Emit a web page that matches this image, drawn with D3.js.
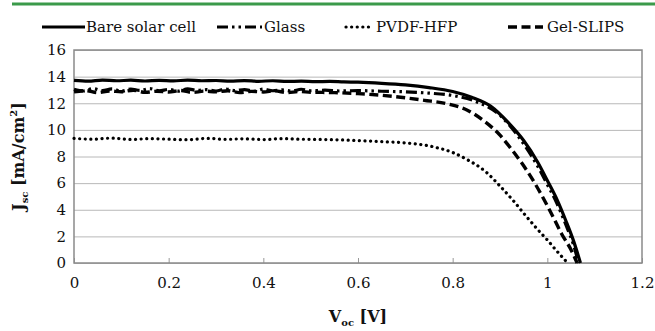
<!DOCTYPE html>
<html>
<head>
<meta charset="utf-8">
<script src="https://cdn.jsdelivr.net/npm/d3@7"></script>
<style>
  body { margin: 0; background: #fff; }
  svg { display: block; }
  svg text { font-family: "DejaVu Serif", "Liberation Serif", serif; }
  .tick text { font-size: 15px; fill: #111; }
</style>
</head>
<body>
<div id="chart"></div>
<script>
// J-V curves
const bareV = [0, 0.03, 0.06, 0.09, 0.12, 0.15, 0.18, 0.21, 0.24, 0.27, 0.3, 0.33, 0.36, 0.39, 0.42, 0.45, 0.48, 0.51, 0.54, 0.57, 0.6, 0.65, 0.7, 0.75, 0.8, 0.84, 0.88, 0.92, 0.95, 0.98, 1.0, 1.02, 1.04, 1.055, 1.07];
const bareJ = [13.72, 13.66, 13.74, 13.69, 13.73, 13.67, 13.72, 13.68, 13.74, 13.69, 13.71, 13.66, 13.70, 13.65, 13.69, 13.64, 13.66, 13.62, 13.64, 13.60, 13.58, 13.50, 13.38, 13.18, 12.88, 12.45, 11.78, 10.45, 9.20, 7.55, 6.20, 4.80, 3.10, 1.70, 0];

const glassV = [0, 0.02, 0.04, 0.06, 0.08, 0.1, 0.12, 0.14, 0.16, 0.18, 0.2, 0.22, 0.24, 0.26, 0.28, 0.3, 0.32, 0.34, 0.36, 0.38, 0.4, 0.42, 0.44, 0.46, 0.48, 0.5, 0.53, 0.56, 0.6, 0.65, 0.7, 0.75, 0.8, 0.85, 0.9, 0.92, 0.95, 0.98, 1.0, 1.02, 1.04, 1.055, 1.066];
const glassJ = [13.05, 12.92, 13.10, 12.95, 13.08, 12.90, 13.06, 12.97, 13.10, 12.93, 13.04, 12.91, 13.08, 12.96, 13.02, 12.92, 13.07, 12.95, 13.03, 12.90, 13.06, 12.94, 13.00, 12.91, 13.05, 12.94, 12.98, 12.92, 12.95, 12.90, 12.86, 12.76, 12.58, 12.12, 11.10, 10.35, 8.95, 7.25, 5.90, 4.50, 2.80, 1.40, 0];

const gelV = [0, 0.025, 0.05, 0.075, 0.1, 0.125, 0.15, 0.175, 0.2, 0.225, 0.25, 0.275, 0.3, 0.325, 0.35, 0.375, 0.4, 0.425, 0.45, 0.475, 0.5, 0.55, 0.6, 0.65, 0.69, 0.74, 0.79, 0.83, 0.865, 0.9, 0.92, 0.95, 0.97, 1.0, 1.012, 1.03, 1.05, 1.063];
const gelJ = [12.85, 12.95, 12.80, 12.92, 12.86, 12.98, 12.82, 12.90, 12.84, 12.96, 12.81, 12.91, 12.86, 12.94, 12.80, 12.89, 12.85, 12.93, 12.80, 12.88, 12.83, 12.80, 12.72, 12.60, 12.45, 12.22, 11.95, 11.50, 10.70, 9.60, 8.74, 7.30, 6.20, 4.30, 3.48, 2.20, 1.00, 0];

const pvdfV = [0, 0.04, 0.08, 0.12, 0.16, 0.2, 0.24, 0.28, 0.32, 0.36, 0.4, 0.44, 0.48, 0.52, 0.56, 0.6, 0.65, 0.69, 0.76, 0.8, 0.83, 0.87, 0.9, 0.93, 0.956, 0.98, 1.0, 1.02, 1.043];
const pvdfJ = [9.36, 9.30, 9.38, 9.28, 9.34, 9.30, 9.26, 9.36, 9.29, 9.33, 9.27, 9.34, 9.30, 9.28, 9.25, 9.20, 9.12, 9.05, 8.72, 8.30, 7.78, 6.85, 5.78, 4.60, 3.48, 2.50, 1.73, 0.90, 0];

const xTicks = [0, 0.2, 0.4, 0.6, 0.8, 1, 1.2];
const yTicks = [0, 2, 4, 6, 8, 10, 12, 14, 16];

const series = [
  { name: "Bare solar cell", v: bareV, j: bareJ, dash: null, w: 3.2 },
  { name: "Glass", v: glassV, j: glassJ, dash: "11,4,2.5,4,2.5,4", w: 3.2 },
  { name: "PVDF-HFP", v: pvdfV, j: pvdfJ, dash: "0.1,5.5", w: 3.2 },
  { name: "Gel-SLIPS", v: gelV, j: gelJ, dash: "9,4.5", w: 3.4 }
];

const W = 655, H = 331;
const m = { left: 74, right: 13, top: 50, bottom: 68 };
const w = W - m.left - m.right, h = H - m.top - m.bottom;

const svg = d3.select("#chart").append("svg")
  .attr("width", W).attr("height", H);

// green rule at the top
svg.append("line")
  .attr("x1", 12).attr("x2", W).attr("y1", 4).attr("y2", 4)
  .attr("stroke", "#3b9a4a").attr("stroke-width", 3);

const x = d3.scaleLinear().domain([0, 1.2]).range([0, w]);
const y = d3.scaleLinear().domain([0, 16]).range([h, 0]);

const g = svg.append("g").attr("transform", `translate(${m.left},${m.top})`);

// gridlines + y labels
const yAxis = g.append("g")
  .call(d3.axisLeft(y).tickValues(yTicks).tickSize(-w).tickPadding(8).tickFormat(d3.format("d")));
yAxis.attr("font-family", null);
yAxis.select(".domain").remove();
yAxis.selectAll(".tick line").attr("stroke", "#b8b8b8").attr("stroke-width", 1);

// x axis, ticks pointing up into the plot
const xAxis = g.append("g").attr("transform", `translate(0,${h})`)
  .call(d3.axisBottom(x).tickValues(xTicks).tickSize(-5).tickPadding(14).tickFormat(d3.format("~g")));
xAxis.attr("font-family", null);
xAxis.select(".domain").remove();
xAxis.selectAll(".tick line").attr("stroke", "#999").attr("stroke-width", 1);

// plot frame
g.append("rect").attr("width", w).attr("height", h)
  .attr("fill", "none").attr("stroke", "#8a8a8a").attr("stroke-width", 1.5);

const line = d3.line()
  .x(d => x(d[0]))
  .y(d => y(d[1]))
  .curve(d3.curveMonotoneX);

series.forEach(s => {
  const pts = s.v.map((v, i) => [v, s.j[i]]);
  g.append("path")
    .datum(pts)
    .attr("fill", "none")
    .attr("stroke", "#000")
    .attr("stroke-width", s.w)
    .attr("stroke-linecap", s.name === "PVDF-HFP" ? "round" : "butt")
    .attr("stroke-dasharray", s.dash)
    .attr("d", line);
});

// legend
const legendPos = [
  { x0: 42, x1: 85, tx: 86 },
  { x0: 217, x1: 262, tx: 264 },
  { x0: 346, x1: 372, tx: 376 },
  { x0: 508, x1: 543, tx: 547 }
];
const legend = svg.append("g");
series.forEach((s, i) => {
  const p = legendPos[i];
  legend.append("line")
    .attr("x1", p.x0).attr("x2", p.x1).attr("y1", 27).attr("y2", 27)
    .attr("stroke", "#000").attr("stroke-width", s.w)
    .attr("stroke-linecap", s.name === "PVDF-HFP" ? "round" : "butt")
    .attr("stroke-dasharray", s.dash);
  legend.append("text")
    .attr("x", p.tx).attr("y", 32)
    .attr("font-size", 15)
    .attr("fill", "#111")
    .text(s.name);
});

// axis titles
const xt = svg.append("text")
  .attr("x", m.left + w / 2).attr("y", 322)
  .attr("text-anchor", "middle")
  .attr("font-size", 16).attr("font-weight", "bold")
  .attr("fill", "#111");
xt.append("tspan").text("V");
xt.append("tspan").attr("font-size", 10).attr("dy", 4).text("oc");
xt.append("tspan").attr("dy", -4).text(" [V]");

const yt = svg.append("text")
  .attr("transform", `translate(24,${m.top + h / 2}) rotate(-90)`)
  .attr("text-anchor", "middle")
  .attr("font-size", 16).attr("font-weight", "bold")
  .attr("fill", "#111");
yt.append("tspan").text("J");
yt.append("tspan").attr("font-size", 10).attr("dy", 4).text("sc");
yt.append("tspan").attr("dy", -4).text(" [mA/cm");
yt.append("tspan").attr("font-size", 10).attr("dy", -7).text("2");
yt.append("tspan").attr("dy", 7).text("]");
</script>
</body>
</html>
